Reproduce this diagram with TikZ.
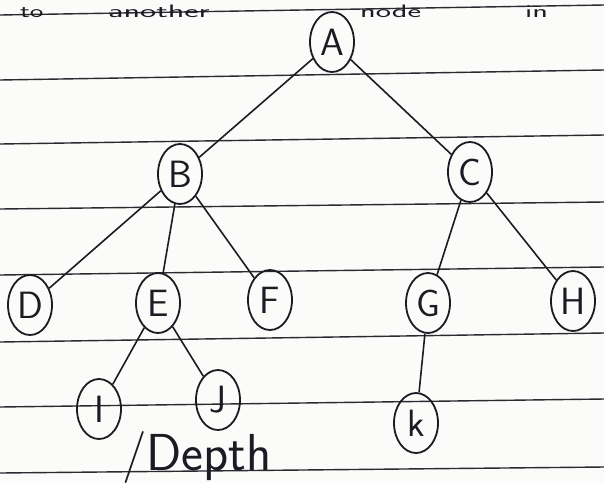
\documentclass[tikz,border=0pt]{standalone}
\usepackage{tikz}
\usepackage{xcolor}
\usetikzlibrary{positioning, shapes.geometric}
\definecolor{cInk}  {HTML}{1B1B24}
\definecolor{cRule} {HTML}{2A2A30}
\definecolor{cPaper}{HTML}{FBFBFA}
\tikzset{
  treenode/.style={ellipse, draw=cInk, line width=1.8pt, inner sep=0pt,
    minimum width=44pt, minimum height=60pt, text=cInk,
    font=\sffamily\fontsize{38}{44}\selectfont},
  edge/.style={draw=cInk, line width=1.6pt},
  rule/.style={draw=cRule, line width=1.4pt},
  scrawl/.style={text=cInk, inner sep=0pt,
    font=\sffamily\fontsize{52}{60}\selectfont},
  topword/.style={text=cInk, inner sep=0pt, anchor=base west,
    font=\sffamily\fontsize{18}{22}\selectfont},
}
\begin{document}
\begin{tikzpicture}[x=1pt, y=-1pt]
  \useasboundingbox (0,0) rectangle (604,483);
  \fill[cPaper] (0,0) rectangle (604,483);
  % ruled lines of the page
  \foreach \yl/\yr in {15/5, 80/70, 144/135, 209/202, 275/267, 342/333, 407/399, 473/467}
    \draw[rule] (0,\yl) -- (604,\yr);
  % words at the top of the page
  \node[topword] (wto)   at (20,17)  {\scalebox{1.6}[1]{to}};
  \node[topword] (wanot) at (108,17) {\scalebox{1.9}[1]{another}};
  \node[topword] (wnode) at (360,17) {\scalebox{1.8}[1]{node}};
  \node[topword] (win)   at (525,17) {\scalebox{1.8}[1]{in}};
  % tree nodes
  \foreach \n/\t/\x/\y in {A/A/332/42, B/B/180/174, C/C/470/172,
                           D/D/30/305, E/E/158/303, F/F/270/300,
                           G/G/428/303, H/H/573/301,
                           I/I/99/409, J/J/218/400, K/k/416/423}
    \node[treenode] (\n) at (\x,\y) {\t};
  % edges
  \foreach \a/\b in {A/B, A/C, B/D, B/E, B/F, C/G, C/H, E/I, E/J, G/K}
    \draw[edge] (\a) -- (\b);
  \node[scrawl, anchor=base west] (depth) at (122,470) {/Depth};
\end{tikzpicture}
\end{document}
